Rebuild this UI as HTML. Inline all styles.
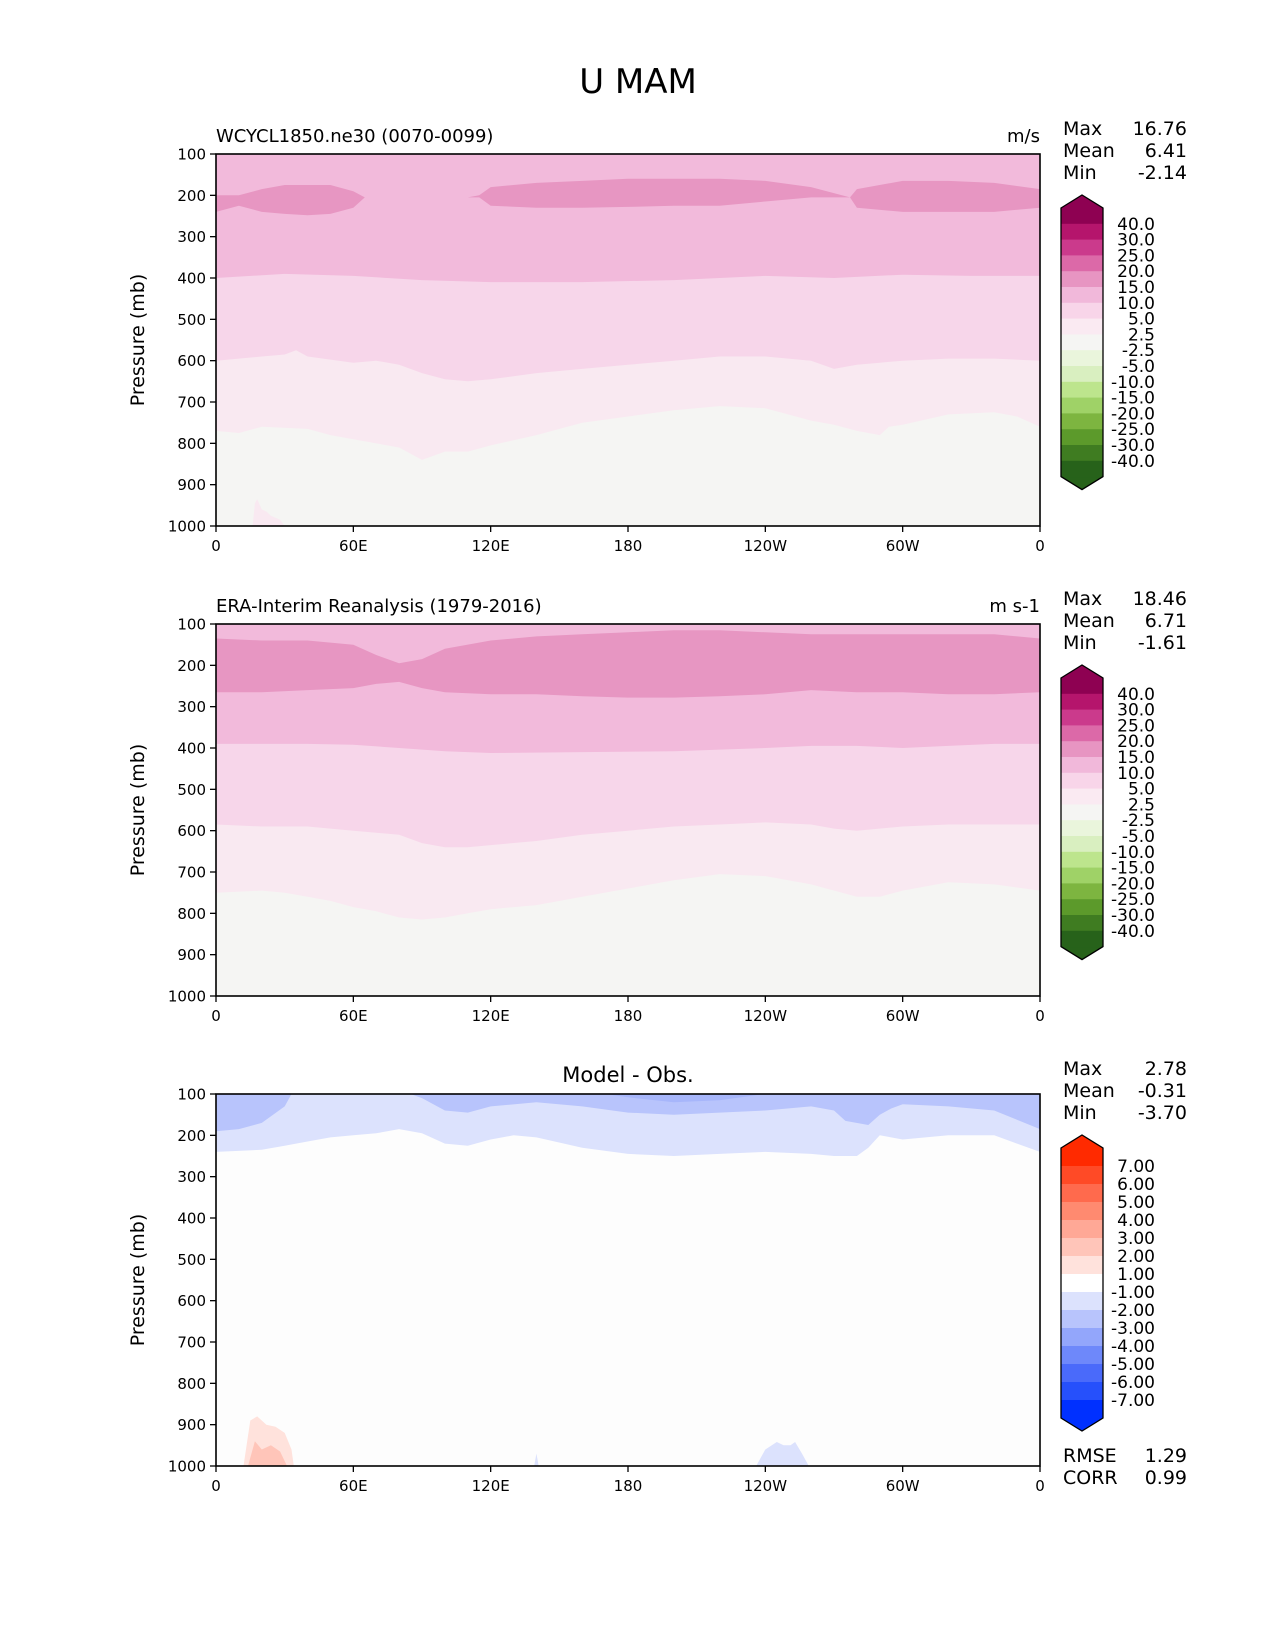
<!DOCTYPE html>
<html><head><meta charset="utf-8"><style>
html,body{margin:0;padding:0;background:#fff}
svg{display:block;font-family:"DejaVu Sans","Liberation Sans",sans-serif}
</style></head><body>
<svg id="fig" width="1275" height="1650" viewBox="0 0 1275 1650" xmlns="http://www.w3.org/2000/svg">
<text x="638" y="93" font-size="34" text-anchor="middle">U MAM</text>
</svg>
<script>
// ---------- data ----------
const lonTicks=[0,60,120,180,240,300,360];
const lonTickLabels=["0","60E","120E","180","120W","60W","0"];
const pTicks=[100,200,300,400,500,600,700,800,900,1000];
// model
const m_lon25=[0,10,20,40,50,60,80,90,100,110,120,140,160,180,200,220,240,260,270,280,290,294,300,320,340,350,360];
const m_p25=[770,775,760,765,780,790,810,840,820,820,805,780,750,735,720,710,715,745,755,770,780,760,755,730,725,735,760];
const m_lon5=[0,20,30,35,40,60,70,80,90,100,110,120,140,160,180,200,220,240,260,270,280,290,300,320,340,360];
const m_p5=[600,590,585,575,590,605,600,610,630,645,650,645,630,620,610,600,590,590,600,620,610,605,600,595,595,600];
const m_lon10=[0,30,60,90,120,160,200,240,270,300,330,360];
const m_p10=[400,390,395,405,410,410,405,395,400,392,395,395];
const m_lon15=[0,10,20,30,40,50,60,65,70,110,115,120,140,160,180,200,220,240,260,277,280,300,320,340,360];
const m_p15top=[200,200,185,175,175,175,190,205,205,205,200,180,170,165,160,160,160,165,180,205,185,165,165,170,185];
const m_p15bot=[240,225,240,245,248,245,230,205,205,205,205,225,230,230,228,225,225,215,205,205,230,240,240,240,230];
const m_lonBlip=[16,17,18,20,22,24,26,28,30];
const m_pBlip=[1000,945,935,960,965,975,980,985,1000];
// obs
const o_lon25=[0,20,30,40,50,60,70,80,90,100,110,120,140,160,180,200,220,240,260,280,290,300,320,340,360];
const o_p25=[750,745,750,760,770,785,795,810,815,810,800,790,780,760,740,720,705,710,730,760,760,745,725,730,745];
const o_lon5=[0,20,40,50,60,70,80,90,100,110,120,140,160,180,200,220,240,260,270,280,300,320,340,360];
const o_p5=[585,590,590,595,600,605,610,630,640,640,635,625,610,600,590,585,580,585,595,600,590,585,585,585];
const o_lon10=[0,40,60,80,100,120,160,200,240,260,280,300,320,340,360];
const o_p10=[390,390,392,400,408,412,410,408,400,395,395,400,395,390,390];
const o_lon15=[0,20,40,60,70,80,90,100,120,140,160,180,200,220,240,260,280,300,320,340,360];
const o_p15top=[135,140,140,150,175,195,185,160,140,130,125,120,115,115,120,125,125,125,125,125,135];
const o_p15bot=[265,265,260,255,245,240,255,265,270,270,275,278,278,275,270,260,265,265,270,270,265];
// diff
const d_lon1=[0,20,30,40,50,60,70,80,90,100,110,120,130,140,160,180,200,220,240,260,270,280,285,290,300,320,340,360];
const d_p1=[240,235,225,215,205,200,195,185,195,220,225,210,200,205,230,245,250,245,240,245,250,250,230,200,210,200,200,240];
const d_lon2=[0,10,20,30,33,85,90,100,110,120,140,160,180,200,220,240,260,270,275,285,290,295,300,320,340,360];
const d_p2=[190,185,170,130,100,100,110,140,145,130,120,130,145,150,145,140,130,140,165,175,150,135,125,130,140,185];
const d_lon3=[170,180,200,220,240];
const d_p3=[100,108,120,115,100];
const d_lonR1=[12,15,18,22,26,30,33,34];
const d_pR1=[1000,890,880,900,905,920,960,1000];
const d_lonR2=[14,17,20,24,28,31];
const d_pR2=[1000,940,960,950,965,1000];
const d_lonB=[236,240,245,248,251,253,256,259];
const d_pB=[1000,960,942,950,950,942,970,1000];
const d_lonS=[139,140,141];
const d_pS=[1000,970,1000];
// colorbars
const cbLabels1=["40.0","30.0","25.0","20.0","15.0","10.0","5.0","2.5","-2.5","-5.0","-10.0","-15.0","-20.0","-25.0","-30.0","-40.0"];
const cbColors1=["#8e0152","#b5156c","#cb3a8c","#dc69a8","#e795c2","#f1b8da","#f8d5e9","#faeaf2","#f5f5f3","#eaf5dc","#d9efc0","#bde58d","#9fd267","#7db540","#5c9a2b","#3f7c21","#27621a"];
const cbLabels2=["7.00","6.00","5.00","4.00","3.00","2.00","1.00","-1.00","-2.00","-3.00","-4.00","-5.00","-6.00","-7.00"];
const cbColors2=["#ff2a00","#ff4a26","#ff6a4d","#ff8a70","#ffa896","#ffc5b9","#ffe2dc","#ffffff","#dce2fd","#b8c4fc","#93a6fb","#6e88fa","#4a6afa","#2650fb","#0030ff"];
const stats1=["16.76","6.41","-2.14"], stats2=["18.46","6.71","-1.61"], stats3=["2.78","-0.31","-3.70"];

// ---------- drawing ----------
const svg=document.getElementById('fig');
const NS='http://www.w3.org/2000/svg';
const X0=216,X1=1040,PH=372;
function xs(lon){return X0+lon/360*(X1-X0);}
function ys(top,p){return top+(p-100)/900*PH;}
function mk(tag,attrs,parent){const e=document.createElementNS(NS,tag);for(const k in attrs)e.setAttribute(k,attrs[k]);(parent||svg).appendChild(e);return e;}
function txt(s,x,y,size,anchor,parent){const t=mk('text',{x:x,y:y,'font-size':size,'text-anchor':anchor||'start'},parent);t.textContent=s;return t;}
function areaAbove(g,top,lons,ps,color,name){
  let d='M'+xs(lons[0])+','+ys(top,100);
  for(let i=0;i<lons.length;i++)d+=' L'+xs(lons[i]).toFixed(1)+','+ys(top,ps[i]).toFixed(1);
  d+=' L'+xs(lons[lons.length-1])+','+ys(top,100)+'Z';
  const p=mk('path',{d:d,fill:color},g);
  
  
}
function band(g,top,lons,pt,pb,color,name){
  let d='';
  for(let i=0;i<lons.length;i++)d+=(i?' L':'M')+xs(lons[i]).toFixed(1)+','+ys(top,pt[i]).toFixed(1);
  for(let i=lons.length-1;i>=0;i--)d+=' L'+xs(lons[i]).toFixed(1)+','+ys(top,pb[i]).toFixed(1);
  const p=mk('path',{d:d+'Z',fill:color},g);
  
  
}
function blob(g,top,lons,ps,color,name){
  let d='';
  for(let i=0;i<lons.length;i++)d+=(i?' L':'M')+xs(lons[i]).toFixed(1)+','+ys(top,ps[i]).toFixed(1);
  const p=mk('path',{d:d+'Z',fill:color},g);
  
  
}
function axes(top,idx){
  const g=mk('g',{});
  
  
  mk('rect',{x:X0,y:top,width:X1-X0,height:PH,fill:'none',stroke:'#000','stroke-width':1.6},g);
  pTicks.forEach(p=>{const y=ys(top,p);mk('line',{x1:X0-6,x2:X0,y1:y,y2:y,stroke:'#000','stroke-width':1.3},g);
    const t=txt(String(p),X0-10,y+5.5,15,'end',g);
    
    });
  lonTicks.forEach((l,i)=>{const x=xs(l);mk('line',{x1:x,x2:x,y1:top+PH,y2:top+PH+6,stroke:'#000','stroke-width':1.3},g);
    const t=txt(lonTickLabels[i],x,top+PH+25,15,'middle',g);
    
    });
  const yl=txt('Pressure (mb)',0,0,19,'middle',g);
  yl.setAttribute('transform','translate(144,'+(top+PH/2)+') rotate(-90)');
  
  
}
function stats(top,vals,idx){
  const names=['Max','Mean','Min'];
  for(let i=0;i<3;i++){
    const a=txt(names[i],1063,top-19+i*22,19,'start');
    
    
    const b=txt(vals[i],1187,top-19+i*22,19,'end');
    
    
  }
}
function colorbar(tipTop,bodyTop,seg,colors,labels,idx){
  const g=mk('g',{});
  
  
  const L=1061,R=1103,M=(L+R)/2,n=colors.length,bottom=bodyTop+n*seg,tipBot=bottom+(bodyTop-tipTop);
  mk('polygon',{points:`${L},${bodyTop} ${M},${tipTop} ${R},${bodyTop}`,fill:colors[0]},g);
  mk('polygon',{points:`${L},${bottom} ${M},${tipBot} ${R},${bottom}`,fill:colors[n-1]},g);
  colors.forEach((c,i)=>mk('rect',{x:L,y:bodyTop+i*seg,width:R-L,height:seg+0.5,fill:c},g));
  mk('polygon',{points:`${L},${bodyTop} ${M},${tipTop} ${R},${bodyTop} ${R},${bottom} ${M},${tipBot} ${L},${bottom}`,fill:'none',stroke:'#000','stroke-width':1.3},g);
  labels.forEach((s,i)=>{const t=txt(s,1155,bodyTop+(i+1)*seg+6,17,'end',g);
    
    });
}

// panel 1
let T=154;
let g1=mk('g',{});
mk('rect',{x:X0,y:T,width:X1-X0,height:PH,fill:'#f5f5f3'},g1);
areaAbove(g1,T,m_lon25,m_p25,'#f9e9f1','contour-2.5');
areaAbove(g1,T,m_lon5,m_p5,'#f7d6ea','contour-5');
areaAbove(g1,T,m_lon10,m_p10,'#f2badb','contour-10');
band(g1,T,m_lon15,m_p15top,m_p15bot,'#e796c2','contour-15');
blob(g1,T,m_lonBlip,m_pBlip,'#f9e9f1','surface-blip');
axes(T,1);
let s=txt('WCYCL1850.ne30 (0070-0099)',216,T-12,18,'start');
s=txt('m/s',1040,T-12,18,'end');
stats(154,stats1,1);
colorbar(195,208,15.8,cbColors1,cbLabels1,1);

// panel 2
T=624;
let g2=mk('g',{});
mk('rect',{x:X0,y:T,width:X1-X0,height:PH,fill:'#f5f5f3'},g2);
areaAbove(g2,T,o_lon25,o_p25,'#f9e9f1','contour-2.5');
areaAbove(g2,T,o_lon5,o_p5,'#f7d6ea','contour-5');
areaAbove(g2,T,o_lon10,o_p10,'#f2badb','contour-10');
band(g2,T,o_lon15,o_p15top,o_p15bot,'#e796c2','contour-15');
axes(T,2);
s=txt('ERA-Interim Reanalysis (1979-2016)',216,T-12,18,'start');
s=txt('m s-1',1040,T-12,18,'end');
stats(624,stats2,2);
colorbar(665,678,15.8,cbColors1,cbLabels1,2);

// panel 3
T=1094;
let g3=mk('g',{});
mk('rect',{x:X0,y:T,width:X1-X0,height:PH,fill:'#fdfdfd'},g3);
areaAbove(g3,T,d_lon1,d_p1,'#dce2fd','contour-neg1');
areaAbove(g3,T,d_lon2,d_p2,'#b8c4fc','contour-neg2');
areaAbove(g3,T,d_lon3,d_p3,'#a7b6fb','contour-neg3');
blob(g3,T,d_lonR1,d_pR1,'#ffe2dc','positive-blob-1');
blob(g3,T,d_lonR2,d_pR2,'#ffc5b9','positive-blob-2');
blob(g3,T,d_lonB,d_pB,'#dce2fd','negative-blob');
blob(g3,T,d_lonS,d_pS,'#dce2fd','negative-spike');
axes(T,3);
s=txt('Model - Obs.',628,T-12,21,'middle');
stats(1094,stats3,3);
colorbar(1135,1148,18,cbColors2,cbLabels2,3);
s=txt('RMSE',1063,1462,19,'start');
s=txt('1.29',1187,1462,19,'end');
s=txt('CORR',1063,1484,19,'start');
s=txt('0.99',1187,1484,19,'end');
</script>
</body></html>
